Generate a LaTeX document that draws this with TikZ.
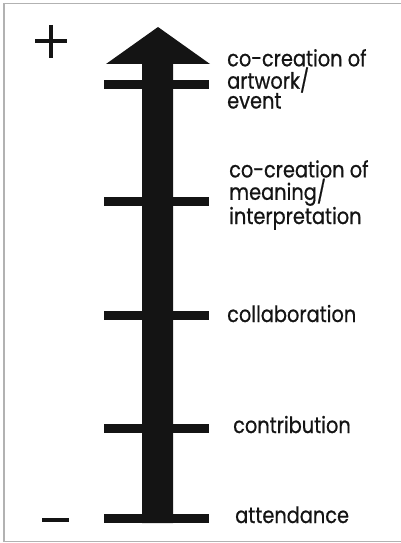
\documentclass[tikz,border=0pt]{standalone}
\usepackage{fontspec}
\setmainfont{Poppins}[FakeStretch=0.86,FakeBold=0.6]
\begin{document}
\begin{tikzpicture}[x=1pt,y=-1pt,
  ink/.style={fill=black!92,draw=none},
  rung/.style={ink},
  lbl/.style={anchor=base west,inner sep=0pt,align=left,font=\fontsize{22.5}{19.8}\selectfont,text=black!92},
  sign/.style={draw=black!92,line width=3.5pt}]
\useasboundingbox (0,0) rectangle (400,543);
\draw[black!30,line width=1.5pt] (401,3.5) -- (4,3.5) -- (4,541.5) -- (401,541.5);
% arrow
\fill[ink] (142,523) -- (142,64) -- (106,64) -- (158,27) -- (210,64) -- (173,64) -- (173,523) -- cycle;
% rungs
\fill[rung] (104,80) rectangle (209,89);
\fill[rung] (104,197) rectangle (209,206);
\fill[rung] (104,311) rectangle (209,320);
\fill[rung] (104,423.5) rectangle (209,432.5);
\fill[rung] (104,514) rectangle (209,523);
% signs
\coordinate (pl) at (35,41); \coordinate (pr) at (67,41);
\coordinate (pt) at (51,25); \coordinate (pb) at (51,58);
\draw[sign] (pl) -- (pr);
\draw[sign] (pt) -- (pb);
\coordinate (ml) at (42,520); \coordinate (mr) at (69,520);
\draw[sign] (ml) -- (mr);
% labels
\node[lbl] (l1) at (227,108.5) {co-creation of\\artwork/\\event};
\node[lbl] (l2) at (229,224) {co-creation of\\meaning/\\interpretation};
\node[lbl] (l3) at (227,322) {collaboration};
\node[lbl] (l4) at (233,433) {contribution};
\node[lbl] (l5) at (235,523) {attendance};
\end{tikzpicture}
\end{document}
